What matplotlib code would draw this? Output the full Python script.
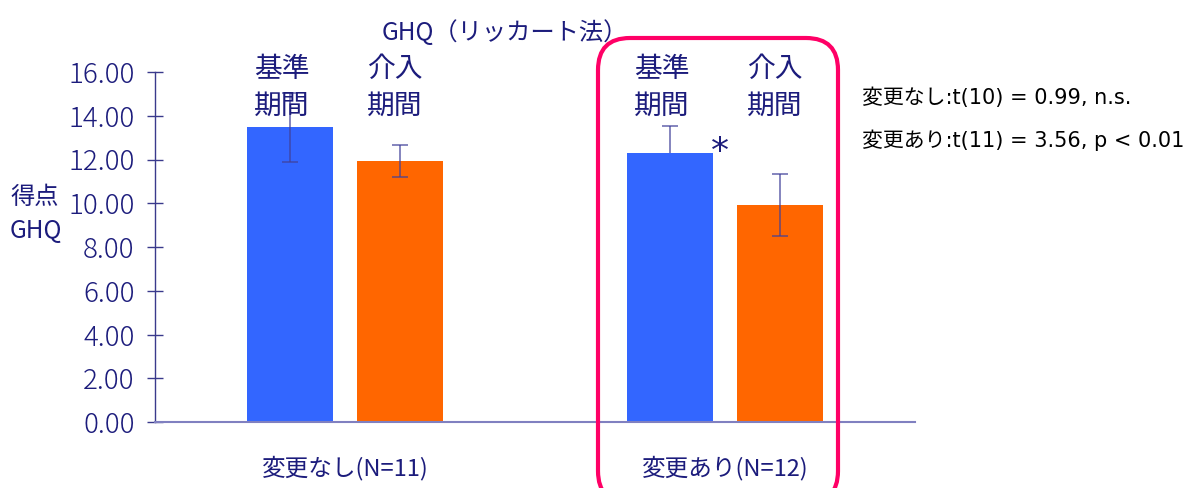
import matplotlib.pyplot as plt
import numpy as np
from matplotlib.patches import FancyBboxPatch

plt.rcParams['font.family'] = ['Noto Sans CJK JP', 'DejaVu Sans']

# data
groups = ["変更なし(N=11)", "変更あり(N=12)"]
periods = ["基準\n期間", "介入\n期間"]
means_base = [13.47, 12.28]
means_int = [11.93, 9.92]
err_base = [1.57, 1.27]
err_int = [0.73, 1.42]
yticks = np.arange(0, 16.01, 2)
stats_lines = ["変更なし:t(10) = 0.99, n.s.", "変更あり:t(11) = 3.56, p < 0.01"]

navy = "#1C1C7C"
blue = "#3366FF"
orange = "#FF6600"
err_col = (0.25, 0.25, 0.6, 0.75)

fig = plt.figure(figsize=(11.91, 4.88), dpi=100)
ax = fig.add_axes([155 / 1191, 66 / 488, 760 / 1191, 350 / 488])

x = np.arange(len(groups))
off = 0.144
w = 0.226

ax.bar(x - off, means_base, w, color=blue, zorder=2)
ax.bar(x + off, means_int, w, color=orange, zorder=2)

# in the second group the baseline error bar sits behind its bar
err_z = [3, 1]
for i, xi in enumerate(x):
    ax.errorbar(xi - off, means_base[i], yerr=err_base[i], fmt="none",
                ecolor=err_col, elinewidth=1.2, capsize=5.5, capthick=1.2,
                zorder=err_z[i])
ax.errorbar(x + off, means_int, yerr=err_int, fmt="none",
            ecolor=err_col, elinewidth=1.2, capsize=5.5, capthick=1.2, zorder=3)

for xi in x:
    ax.text(xi - off - 0.022, 15.3, periods[0], ha="center", va="center",
            fontsize=20, color=navy, linespacing=1.3, zorder=4)
    ax.text(xi + off - 0.012, 15.3, periods[1], ha="center", va="center",
            fontsize=20, color=navy, linespacing=1.3, zorder=4)

# significance mark
ax.text(x[1] - 0.012, 12.35, "*", ha="center", va="center",
        fontsize=26, color=navy, family="DejaVu Sans")

ax.set_xlim(-0.5, 1.5)
ax.set_ylim(0, 16)
ax.set_yticks(yticks)
ax.set_yticklabels([f"{v:.2f}" for v in yticks])
ax.set_xticks(x)
ax.set_xticklabels(groups)

ax.tick_params(axis="y", direction="inout", length=11.5, width=1.0,
               color="#3A3A8C", labelsize=20, labelcolor=navy, pad=9)
ax.tick_params(axis="x", length=0, labelsize=17, labelcolor=navy, pad=24)
for lab in ax.get_yticklabels():
    lab.set_fontweight("light")

for s in ["top", "right"]:
    ax.spines[s].set_visible(False)
ax.spines["left"].set_color("#3A3A8C")
ax.spines["bottom"].set_color("#8080C0")
ax.spines["left"].set_linewidth(1.0)
ax.spines["bottom"].set_linewidth(1.5)

fig.text(505 / 1191, 1 - 33 / 488, "GHQ（リッカート法）", ha="center", va="center",
         fontsize=17.5, color=navy)
fig.text(10 / 1191, 1 - 214 / 488, "得点\nGHQ", ha="left", va="center",
         fontsize=17.5, color=navy, linespacing=1.4)

for i, line in enumerate(stats_lines):
    fig.text(862 / 1191, 1 - (98 + 42 * i) / 488, line, ha="left", va="center",
             fontsize=15, color="black", family=["DejaVu Sans", "Noto Sans CJK JP"])

# highlight box around the changed group
box = FancyBboxPatch((5.98, -0.15), 2.40, 4.65,
                     boxstyle="round,pad=0,rounding_size=0.32",
                     transform=fig.dpi_scale_trans, fill=False,
                     edgecolor="#FF0066", linewidth=3.0, clip_on=False)
fig.patches.append(box)

fig.savefig("out.png", dpi=100)
